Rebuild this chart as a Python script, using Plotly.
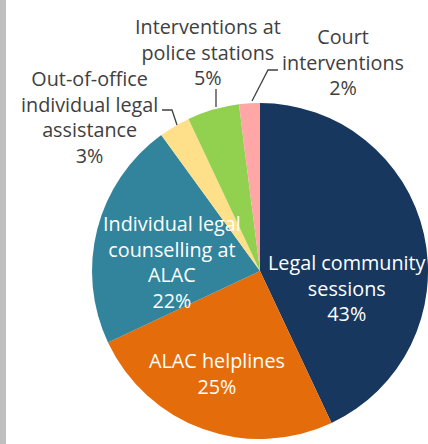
import plotly.graph_objects as go

# ---- data ----
labels = ["Legal community sessions", "ALAC helplines",
          "Individual legal counselling at ALAC",
          "Out-of-office individual legal assistance",
          "Interventions at police stations", "Court interventions"]
label_lines = ["Legal community<br>sessions", "ALAC helplines",
               "Individual legal<br>counselling at<br>ALAC",
               "Out-of-office<br>individual legal<br>assistance",
               "Interventions at<br>police stations", "Court<br>interventions"]
values = [43, 25, 22, 3, 5, 2]
colors = ["#17375E", "#E46C0A", "#31849B", "#FFE08A", "#92D050", "#FFA6A6"]

W, H = 428, 444
FONT = "Open Sans"
FS = 19.8

def px(x):
    return x / W

def py(y):
    return 1 - y / H

fig = go.Figure(go.Pie(
    labels=labels, values=values, sort=False, direction="clockwise",
    rotation=0, marker=dict(colors=colors, line=dict(width=0)),
    textinfo="none", hoverinfo="label+percent", showlegend=False,
    domain=dict(x=[px(92), px(428)], y=[py(439), py(103)]),
))

# label placements (pixel centres) and colours
label_pos = [(347, 288), (217, 373), (172, 262), (89, 117), (208, 52), (343, 62)]
label_col = ["white", "white", "white", "#404040", "#404040", "#404040"]

annotations = []
for txt, v, (x, y), c in zip(label_lines, values, label_pos, label_col):
    annotations.append(dict(
        text=f"{txt}<br>{v}%", x=px(x), y=py(y), xref="paper", yref="paper",
        xanchor="center", yanchor="middle", showarrow=False,
        font=dict(family=FONT, size=FS, color=c), align="center"))

# leader lines for outside labels
leaders = [
    [(162, 110), (172, 110), (177, 125)],
    [(216, 89), (216, 107)],
    [(278, 70), (268, 70), (252, 101)],
]
shapes = []
for pts in leaders:
    path = "M " + " L ".join(f"{px(a)},{py(b)}" for a, b in pts)
    shapes.append(dict(type="path", path=path, xref="paper", yref="paper",
                       line=dict(color="#404040", width=1.3)))
# grey strip on the left
shapes.append(dict(type="rect", xref="paper", yref="paper", x0=0, x1=px(6),
                   y0=0, y1=1, fillcolor="#BFBFBF", line=dict(width=0), layer="below"))

fig.update_layout(width=W, height=H, margin=dict(l=0, r=0, t=0, b=0),
                  paper_bgcolor="white", plot_bgcolor="white",
                  annotations=annotations, shapes=shapes)

fig.write_html("out.html", config={"displayModeBar": False},
               post_script="document.body.style.margin='0';document.body.style.overflow='hidden';")
